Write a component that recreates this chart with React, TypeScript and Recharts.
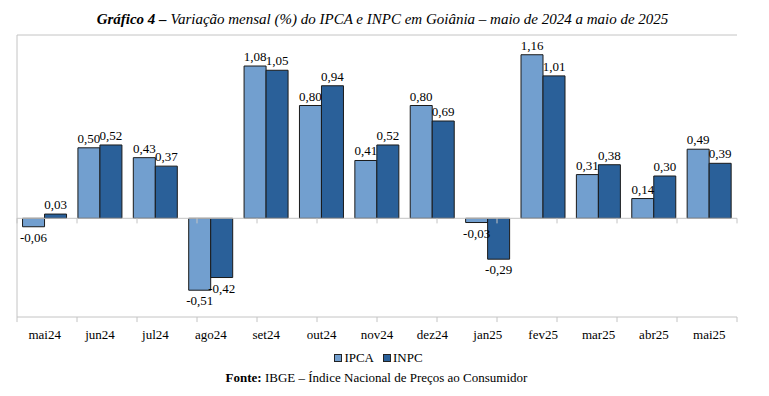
import React from 'react';
import { BarChart, Bar, XAxis, YAxis, CartesianGrid, ReferenceLine, LabelList } from 'recharts';

const categories = ['mai24', 'jun24', 'jul24', 'ago24', 'set24', 'out24', 'nov24', 'dez24', 'jan25', 'fev25', 'mar25', 'abr25', 'mai25'];
const ipcaValues = [-0.06, 0.5, 0.43, -0.51, 1.08, 0.8, 0.41, 0.8, -0.03, 1.16, 0.31, 0.14, 0.49];
const inpcValues = [0.03, 0.52, 0.37, -0.42, 1.05, 0.94, 0.52, 0.69, -0.29, 1.01, 0.38, 0.3, 0.39];
const seriesNames = ['IPCA', 'INPC'];
const seriesColors = ['#729fcf', '#2a6099'];
const yTicks = [-0.7, -0.5, -0.3, -0.1, 0.1, 0.3, 0.5, 0.7, 0.9, 1.1, 1.3];
const titleBold = 'Gráfico 4 –';
const titleRest = ' Variação mensal (%) do IPCA e INPC em Goiânia – maio de 2024 a maio de 2025';
const sourceBold = 'Fonte:';
const sourceRest = ' IBGE – Índice Nacional de Preços ao Consumidor';

const data = categories.map((c, i) => ({ cat: c, IPCA: ipcaValues[i], INPC: inpcValues[i] }));
const boundaries = Array.from({ length: categories.length + 1 }, (_, i) => i);

const FONT = '"Liberation Serif", "Times New Roman", Times, serif';
const GRID = '#c4c4c4';
const TICK = 0.036;

const fmt = (v: number) => v.toFixed(2).replace('.', ',');

const renderLabel = (props: any) => {
  const { x, y, width, height, value } = props;
  const top = Math.min(y, y + height);
  const bottom = Math.max(y, y + height);
  const cx = x + width / 2;
  const neg = value < 0;
  return (
    <text x={cx} y={neg ? bottom + 15 : top - 5} textAnchor="middle" fontFamily={FONT} fontSize={13} fill="#000">
      {fmt(value)}
    </text>
  );
};

export default function App() {
  const yMin = yTicks[0];
  const yMax = yTicks[yTicks.length - 1];
  return (
    <div style={{ position: 'absolute', left: 0, top: 0, width: 769, height: 396, background: '#fff', fontFamily: FONT }}>
      <div style={{ position: 'absolute', left: 0, width: 769, top: 11, textAlign: 'center', fontSize: 15, fontStyle: 'italic', lineHeight: '17px', color: '#000', paddingRight: 4, boxSizing: 'border-box' }}>
        <b>{titleBold}</b>{titleRest}
      </div>
      <BarChart
        width={769}
        height={396}
        data={data}
        margin={{ top: 35, right: 32, left: 17, bottom: 0 }}
        barCategoryGap="10%"
        barGap={0}
      >
        <CartesianGrid horizontal vertical={false} stroke={GRID} strokeWidth={1} />
        <YAxis domain={[yMin, yMax]} ticks={yTicks} width={0} tick={false} axisLine={false} tickLine={false} allowDataOverflow />
        <XAxis
          dataKey="cat"
          height={79}
          axisLine={false}
          tickLine={false}
          tickSize={6}
          tickMargin={7}
          interval={0}
          tick={{ fontFamily: FONT, fontSize: 13, fill: '#000' }}
        />
        <XAxis xAxisId="sep" type="number" domain={[0, categories.length]} hide allowDataOverflow />
        <ReferenceLine y={0} stroke={GRID} strokeWidth={1} />
        {boundaries.map((b) => (
          <ReferenceLine
            key={'z' + b}
            xAxisId="sep"
            segment={[{ x: b, y: 0 }, { x: b, y: -TICK }]}
            stroke={GRID}
            ifOverflow="visible"
          />
        ))}
        {boundaries.map((b) => (
          <ReferenceLine
            key={'b' + b}
            xAxisId="sep"
            segment={[{ x: b, y: yMin }, { x: b, y: yMin - TICK }]}
            stroke={GRID}
            ifOverflow="visible"
          />
        ))}
        <ReferenceLine xAxisId="sep" segment={[{ x: 0, y: yMax }, { x: 0, y: yMin }]} stroke={GRID} ifOverflow="visible" />
        <ReferenceLine xAxisId="sep" segment={[{ x: categories.length, y: yMax }, { x: categories.length, y: yMin }]} stroke={GRID} ifOverflow="visible" />
        {seriesNames.map((s, i) => (
          <Bar key={s} dataKey={s} fill={seriesColors[i]} stroke="#1a1a1a" strokeWidth={1} isAnimationActive={false}>
            <LabelList dataKey={s} content={renderLabel} />
          </Bar>
        ))}
      </BarChart>
      <div style={{ position: 'absolute', left: 0, width: 769, top: 350, display: 'flex', justifyContent: 'center', fontSize: 13, lineHeight: '15px', color: '#000' }}>
        <div style={{ display: 'flex', alignItems: 'center', marginLeft: -12 }}>
          {seriesNames.map((s, i) => (
            <div key={s} style={{ display: 'flex', alignItems: 'center', marginRight: i === 0 ? 9 : 0 }}>
              <span style={{ display: 'inline-block', width: 6, height: 6, background: seriesColors[i], border: '1px solid #222', marginRight: 2 }} />
              <span>{s}</span>
            </div>
          ))}
        </div>
      </div>
      <div style={{ position: 'absolute', left: 0, width: 769, top: 370, textAlign: 'center', fontSize: 13, lineHeight: '15px', color: '#000', paddingRight: 16, boxSizing: 'border-box' }}>
        <b>{sourceBold}</b>{sourceRest}
      </div>
    </div>
  );
}
